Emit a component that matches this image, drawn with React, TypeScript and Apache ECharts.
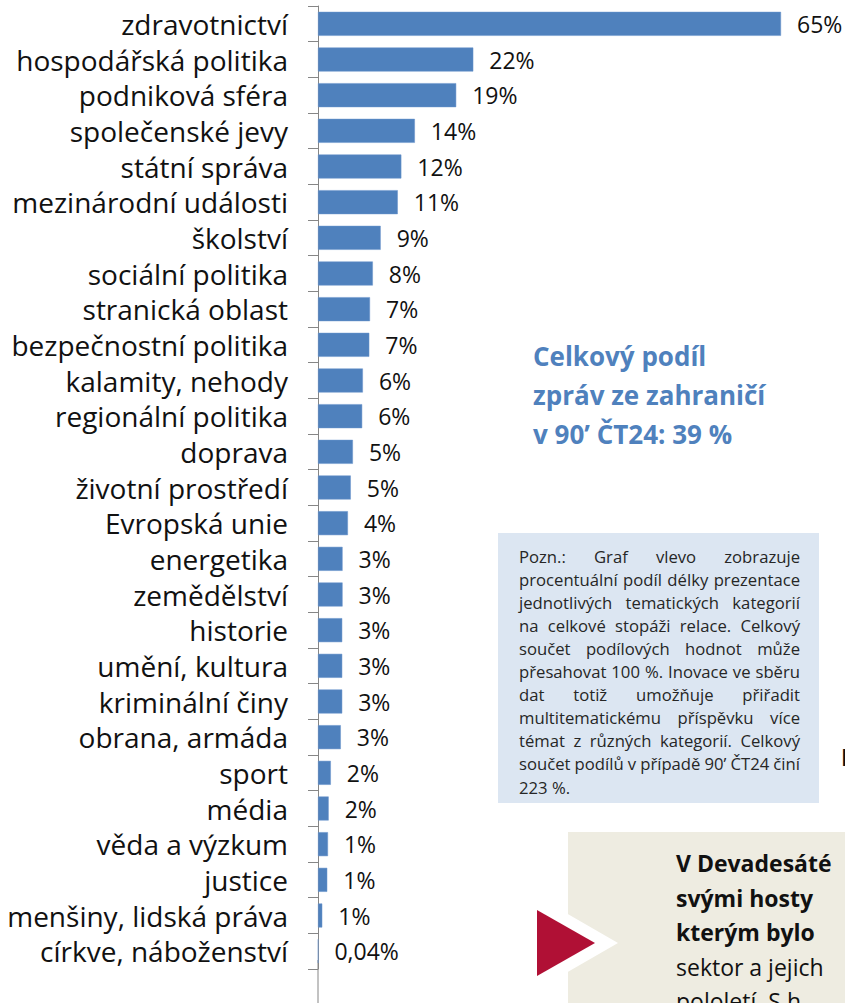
import React, { useEffect, useRef } from "react";
import * as echarts from "echarts";

const categories = [
  "zdravotnictví",
  "hospodářská politika",
  "podniková sféra",
  "společenské jevy",
  "státní správa",
  "mezinárodní události",
  "školství",
  "sociální politika",
  "stranická oblast",
  "bezpečnostní politika",
  "kalamity, nehody",
  "regionální politika",
  "doprava",
  "životní prostředí",
  "Evropská unie",
  "energetika",
  "zemědělství",
  "historie",
  "umění, kultura",
  "kriminální činy",
  "obrana, armáda",
  "sport",
  "média",
  "věda a výzkum",
  "justice",
  "menšiny, lidská práva",
  "církve, náboženství",
];

const values = [
  65, 21.8, 19.4, 13.6, 11.7, 11.2, 8.8, 7.7, 7.3, 7.2, 6.3, 6.2, 4.9, 4.6, 4.2,
  3.45, 3.45, 3.4, 3.4, 3.4, 3.2, 1.8, 1.5, 1.4, 1.3, 0.6, 0.04,
];

const titleLines = ["Celkový podíl", "zpráv ze zahraničí", "v 90’ ČT24: 39 %"];

const noteLines = [
  "Pozn.: Graf vlevo zobrazuje",
  "procentuální podíl délky prezentace",
  "jednotlivých tematických kategorií",
  "na celkové stopáži relace. Celkový",
  "součet podílových hodnot může",
  "přesahovat 100 %. Inovace ve sběru",
  "dat totiž umožňuje přiřadit",
  "multitematickému příspěvku více",
  "témat z různých kategorií. Celkový",
  "součet podílů v případě 90’ ČT24 činí",
  "223 %.",
];

const boxLines = [
  { text: "V Devadesáté", bold: true },
  { text: "svými hosty", bold: true },
  { text: "kterým bylo", bold: true },
  { text: "sektor a jejich", bold: false },
  { text: "pololetí. S h", bold: false },
];

const FAMILY = "Open Sans";
const FONT = "'Open Sans', 'Noto Sans', sans-serif";

function measure(text: string, font: string): number {
  const c = document.createElement("canvas").getContext("2d");
  if (!c) return text.length * 7;
  c.font = font;
  return c.measureText(text).width;
}

function justifiedLine(line: string, x: number, y: number, width: number, fontSize: number, justify: boolean) {
  const font = `${fontSize}px '${FAMILY}'`;
  const words = line.split(" ");
  const widths = words.map((w) => measure(w, font));
  const total = widths.reduce((a, b) => a + b, 0);
  const gap = justify && words.length > 1 ? (width - total) / (words.length - 1) : measure(" ", font);
  const els: any[] = [];
  let cx = x;
  words.forEach((w, i) => {
    els.push({
      type: "text",
      x: cx,
      y,
      style: {
        text: w,
        fontSize,
        fontFamily: FONT,
        fill: "#262626",
        textAlign: "left",
        textVerticalAlign: "middle",
        align: "left",
        verticalAlign: "middle",
      },
    });
    cx += widths[i] + gap;
  });
  return els;
}

export default function App() {
  const ref = useRef<HTMLDivElement>(null);
  useEffect(() => {
    if (!ref.current) return;
    const chart = echarts.init(ref.current, null, { renderer: "svg" });

    const graphics: any[] = [];
    graphics.push({
      type: "line",
      shape: { x1: 318, y1: 960, x2: 318, y2: 1003 },
      style: { stroke: "#868686", lineWidth: 1 },
      z: 0,
    });
    titleLines.forEach((t, i) => {
      graphics.push({
        type: "text",
        x: 533,
        y: 356 + i * 39,
        style: {
          text: t,
          fontSize: 26,
          fontWeight: "bold",
          fontFamily: FONT,
          fill: "#4F81BD",
          textAlign: "left",
          textVerticalAlign: "middle",
          align: "left",
          verticalAlign: "middle",
        },
      });
    });
    graphics.push({
      type: "rect",
      shape: { x: 498, y: 533, width: 321, height: 270 },
      style: { fill: "#DCE6F2" },
    });
    const base = measure(noteLines[1], `14px '${FAMILY}'`);
    const noteSize = (14 * 278) / base;
    noteLines.forEach((l, i) => {
      justifiedLine(l, 519, 556 + i * 23.1, 281, noteSize, i < noteLines.length - 1).forEach((e) => graphics.push(e));
    });
    graphics.push({
      type: "rect",
      shape: { x: 568, y: 832, width: 290, height: 180 },
      style: { fill: "#EEECE1" },
    });
    graphics.push({
      type: "polygon",
      shape: { points: [[500, 875], [500, 1011], [618, 943]] },
      style: { fill: "#FFFFFF" },
    });
    graphics.push({
      type: "polygon",
      shape: { points: [[537, 910], [537, 976], [595, 943]] },
      style: { fill: "#B01035" },
    });
    boxLines.forEach((l, i) => {
      graphics.push({
        type: "text",
        x: 676,
        y: 863 + i * 34.5,
        style: {
          text: l.text,
          fontSize: 23,
          fontWeight: l.bold ? "bold" : "normal",
          fontFamily: FONT,
          fill: "#111111",
          textAlign: "left",
          textVerticalAlign: "middle",
          align: "left",
          verticalAlign: "middle",
        },
      });
    });
    graphics.push({
      type: "text",
      x: 841,
      y: 757,
      style: {
        text: "I",
        fontSize: 23,
        fontWeight: "bold",
        fontFamily: FONT,
        fill: "#111111",
        textAlign: "left",
        textVerticalAlign: "middle",
        align: "left",
        verticalAlign: "middle",
      },
    });

    chart.setOption({
      animation: false,
      grid: { left: 318, top: 6, width: 463, height: 963, containLabel: false },
      xAxis: { type: "value", min: 0, max: 65, show: false },
      yAxis: {
        type: "category",
        data: categories,
        inverse: true,
        axisLine: { show: true, lineStyle: { color: "#868686", width: 1 } },
        axisTick: { show: true, length: 10, interval: 0, lineStyle: { color: "#868686" } },
        axisLabel: {
          interval: 0,
          margin: 30,
          fontSize: 28,
          fontFamily: FONT,
          color: "#111111",
        },
      },
      series: [
        {
          type: "bar",
          data: values,
          barWidth: 24,
          itemStyle: { color: "#4F81BD", borderColor: "#6A95CC", borderWidth: 0.5 },
          label: {
            show: true,
            position: "right",
            distance: 16,
            fontSize: 23,
            fontFamily: FONT,
            color: "#111111",
            formatter: (p: any) =>
              p.value < 0.5 ? String(p.value).replace(".", ",") + "%" : Math.round(p.value) + "%",
          },
        },
      ],
      graphic: graphics,
    });
    return () => chart.dispose();
  }, []);
  return (
    <div
      ref={ref}
      style={{ position: "fixed", left: 0, top: 0, width: 845, height: 1003, overflow: "hidden", background: "#fff" }}
    />
  );
}
